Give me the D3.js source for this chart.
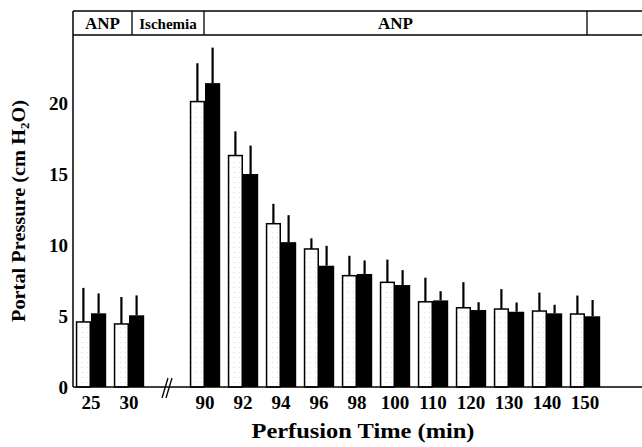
<!DOCTYPE html>
<html>
<head>
<meta charset="utf-8">
<script src="https://cdn.jsdelivr.net/npm/d3@7"></script>
<style>
  body { margin: 0; background: #fff; }
  text { font-family: "Liberation Serif", "Times New Roman", serif; font-weight: bold; fill: #000; }
</style>
</head>
<body>
<div id="chart"></div>
<script>
// perfusion times (min)
var times = ["25", "30", "90", "92", "94", "96", "98", "100", "110", "120", "130", "140", "150"];
// open bars: mean and SD
var openMean = [4.58, 4.44, 20.1, 16.3, 11.5, 9.72, 7.84, 7.37, 6.0, 5.58, 5.49, 5.35, 5.14];
var openSd   = [2.4, 1.9, 2.7, 1.7, 1.4, 0.75, 1.4, 1.6, 1.7, 1.8, 1.4, 1.3, 1.3];
// filled bars: mean and SD
var filledMean = [5.19, 5.05, 21.4, 15.0, 10.2, 8.54, 7.96, 7.18, 6.1, 5.42, 5.3, 5.19, 4.98];
var filledSd   = [1.4, 1.4, 2.5, 2.0, 1.9, 1.4, 0.95, 1.05, 0.65, 0.55, 0.65, 0.6, 1.15];
var yTicks = [0, 5, 10, 15, 20];
var phases = [
  { label: "ANP", from: 73, to: 132 },
  { label: "Ischemia", from: 132, to: 204 },
  { label: "ANP", from: 204, to: 587 },
  { label: "", from: 587, to: 642 }
];

var width = 642, height = 447;
var svg = d3.select("#chart").append("svg")
    .attr("width", width)
    .attr("height", height);

// light stipple for open bars
var pat = svg.append("defs").append("pattern")
    .attr("id", "dots")
    .attr("patternUnits", "userSpaceOnUse")
    .attr("width", 5).attr("height", 5);
pat.append("rect").attr("width", 5).attr("height", 5).attr("fill", "#fff");
pat.append("rect").attr("x", 1).attr("y", 2).attr("width", 1).attr("height", 1).attr("fill", "#d8d8d8");

// slots: the two early times, a gap for the axis break, then the rest
var slots = ["25", "30", "gap"].concat(times.slice(2)).concat(["end"]);
var x = d3.scaleBand()
    .domain(slots)
    .range([72, 642])
    .paddingInner(0.2)
    .paddingOuter(0.1);
var xs = d3.scaleBand()
    .domain(["open", "filled"])
    .range([0, x.bandwidth()]);

var y = d3.scaleLinear()
    .domain([0, 20])
    .range([387, 103]);

var data = times.map(function(t, i) {
    return { t: t, open: openMean[i], openSd: openSd[i], filled: filledMean[i], filledSd: filledSd[i] };
});

// bars
var g = svg.selectAll(".grp")
    .data(data)
    .enter().append("g")
    .attr("transform", function(d) { return "translate(" + x(d.t) + ",0)"; });

g.append("line")
    .attr("x1", xs("open") + xs.bandwidth() / 2)
    .attr("x2", xs("open") + xs.bandwidth() / 2)
    .attr("y1", function(d) { return y(d.open); })
    .attr("y2", function(d) { return y(d.open + d.openSd); })
    .attr("stroke", "#000").attr("stroke-width", 2.2);
g.append("rect")
    .attr("x", xs("open") + 0.75)
    .attr("y", function(d) { return y(d.open); })
    .attr("width", xs.bandwidth() - 1.5)
    .attr("height", function(d) { return y(0) - y(d.open); })
    .attr("fill", "url(#dots)")
    .attr("stroke", "#000").attr("stroke-width", 1.5);

g.append("line")
    .attr("x1", xs("filled") + xs.bandwidth() / 2)
    .attr("x2", xs("filled") + xs.bandwidth() / 2)
    .attr("y1", function(d) { return y(d.filled); })
    .attr("y2", function(d) { return y(d.filled + d.filledSd); })
    .attr("stroke", "#000").attr("stroke-width", 2.2);
g.append("rect")
    .attr("x", xs("filled"))
    .attr("y", function(d) { return y(d.filled); })
    .attr("width", xs.bandwidth())
    .attr("height", function(d) { return y(0) - y(d.filled); })
    .attr("fill", "#000");

// axes frame
svg.append("line").attr("x1", 73).attr("x2", 642).attr("y1", y(0)).attr("y2", y(0))
    .attr("stroke", "#000").attr("stroke-width", 1.5);
svg.append("line").attr("x1", 73).attr("x2", 73).attr("y1", 11).attr("y2", y(0))
    .attr("stroke", "#000").attr("stroke-width", 1.5);

// axis break mark
var bx = x("gap") + x.bandwidth() / 2;
[-2, 2].forEach(function(o) {
    svg.append("line")
        .attr("x1", bx + o - 3).attr("y1", y(0) + 11)
        .attr("x2", bx + o + 3).attr("y2", y(0) - 9)
        .attr("stroke", "#000").attr("stroke-width", 1.3);
});

// y axis labels
var yAxis = svg.append("g")
    .attr("transform", "translate(73,0)")
    .call(d3.axisLeft(y).tickValues(yTicks).tickSize(0).tickPadding(5));
yAxis.select(".domain").remove();
yAxis.selectAll("text")
    .style("font-family", "Liberation Serif")
    .style("font-weight", "bold")
    .style("font-size", "19px");

// x axis labels
var xAxis = svg.append("g")
    .attr("transform", "translate(0," + y(0) + ")")
    .call(d3.axisBottom(x).tickValues(times).tickSize(0).tickPadding(9));
xAxis.select(".domain").remove();
xAxis.selectAll("text")
    .style("font-family", "Liberation Serif")
    .style("font-weight", "bold")
    .style("font-size", "19px");

// phase header
var hdr = svg.append("g");
hdr.append("line").attr("x1", 73).attr("x2", 642).attr("y1", 11).attr("y2", 11)
    .attr("stroke", "#000").attr("stroke-width", 1.3);
hdr.append("line").attr("x1", 73).attr("x2", 642).attr("y1", 35).attr("y2", 35)
    .attr("stroke", "#000").attr("stroke-width", 1.3);
hdr.selectAll(".div")
    .data(phases.slice(1))
    .enter().append("line")
    .attr("x1", function(d) { return d.from; })
    .attr("x2", function(d) { return d.from; })
    .attr("y1", 11).attr("y2", 35)
    .attr("stroke", "#000").attr("stroke-width", 1.3);
hdr.selectAll(".lbl")
    .data(phases)
    .enter().append("text")
    .attr("x", function(d) { return (d.from + d.to) / 2; })
    .attr("y", 29)
    .attr("text-anchor", "middle")
    .style("font-size", function(d) { return d.label === "Ischemia" ? "15px" : "17px"; })
    .text(function(d) { return d.label; });

// titles
svg.append("text")
    .attr("x", 363).attr("y", 438)
    .attr("text-anchor", "middle")
    .attr("textLength", 223)
    .attr("lengthAdjust", "spacingAndGlyphs")
    .style("font-size", "21px")
    .text("Perfusion Time (min)");

var yt = svg.append("text")
    .attr("transform", "translate(25,211) rotate(-90)")
    .attr("text-anchor", "middle")
    .attr("textLength", 222)
    .attr("lengthAdjust", "spacingAndGlyphs")
    .style("font-size", "19px");
yt.append("tspan").text("Portal Pressure (cm H");
yt.append("tspan").attr("dy", 4).style("font-size", "12px").text("2");
yt.append("tspan").attr("dy", -4).text("O)");
</script>
</body>
</html>
